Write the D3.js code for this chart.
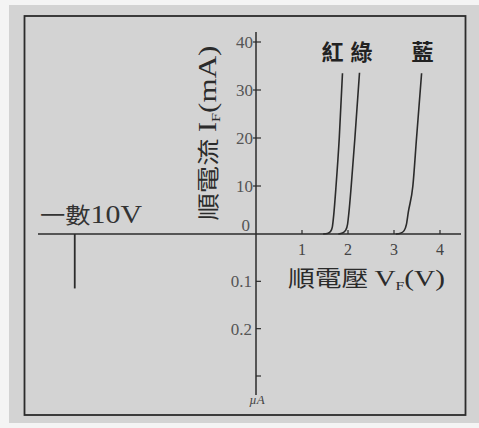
<!DOCTYPE html>
<html>
<head>
<meta charset="utf-8">
<script src="https://cdn.jsdelivr.net/npm/d3@7"></script>
<style>
  body { margin: 0; background: #f4f4f4; }
  svg { display: block; }
  text { fill: #333; }
</style>
</head>
<body>
<svg></svg>
<script>
const width = 479;
const height = 428;

// forward characteristic, V vs mA
const redV   = [1.46, 1.55, 1.62, 1.66, 1.69, 1.74, 1.81, 1.88];
const redI   = [0,    0.1,  0.5,  1.5,  4,    10,   20,   33.5];
const greenV = [1.79, 1.88, 1.95, 1.99, 2.02, 2.07, 2.15, 2.25];
const greenI = [0,    0.2,  0.8,  2,    4.5,  10,   20,   33.6];
const blueV  = [3.04, 3.14, 3.22, 3.27, 3.31, 3.41, 3.49, 3.60];
const blueI  = [0,    0.15, 0.7,  2,    4.5,  10,   20,   33.5];
const colorNames = ["紅", "綠", "藍"];

// reverse side
const reverseV = -10;
const reverseI = 0.115; // µA

const xTicks = [1, 2, 3, 4];
const yTicks = [0, 10, 20, 30, 40];
const revTicks = [0.1, 0.2, 0.3];
const revTickLabels = ["0.1", "0.2", ""];

const ink = "#2b2b2b";
const serif = "'Liberation Serif', 'DejaVu Serif', serif";
const cjk = "'Noto Sans CJK TC', 'Noto Sans CJK JP', sans-serif";

const x = d3.scaleLinear().domain([0, 4.5]).range([256, 463]);
const xNeg = d3.scaleLinear().domain([-12, 0]).range([38.5, 256]);
const y = d3.scaleLinear().domain([0, 40]).range([234, 42]);
const yRev = d3.scaleLinear().domain([0, 0.3]).range([234, 376]);

const svg = d3.select("svg").attr("width", width).attr("height", height);

// scanned page background
svg.append("rect").attr("x", 9).attr("y", 5).attr("width", 470).attr("height", 418)
  .attr("fill", "#d3d3d3");
svg.append("rect").attr("x", 24.5).attr("y", 16).attr("width", 441).attr("height", 399)
  .attr("fill", "none").attr("stroke", ink).attr("stroke-width", 1.8);

// axes lines
svg.append("line").attr("x1", 38).attr("x2", 461).attr("y1", y(0)).attr("y2", y(0))
  .attr("stroke", ink).attr("stroke-width", 1.5);
svg.append("line").attr("x1", x(0)).attr("x2", x(0)).attr("y1", 32).attr("y2", 395)
  .attr("stroke", ink).attr("stroke-width", 1.5);

// y ticks (mA)
const yg = svg.append("g");
yg.selectAll("line").data(yTicks.filter(d => d > 0)).enter().append("line")
  .attr("x1", x(0) - 3).attr("x2", x(0) + 5)
  .attr("y1", d => y(d)).attr("y2", d => y(d))
  .attr("stroke", ink).attr("stroke-width", 1.2);
yg.selectAll("text").data(yTicks).enter().append("text")
  .attr("x", d => d === 0 ? 250 : 253)
  .attr("y", d => d === 0 ? y(d) - 9 : y(d))
  .attr("dy", "0.35em")
  .attr("text-anchor", "end")
  .style("font", "17px " + serif).style("fill", "#555")
  .text(d => d);

// x ticks (V)
const xg = svg.append("g");
xg.selectAll("line").data(xTicks).enter().append("line")
  .attr("x1", d => x(d)).attr("x2", d => x(d))
  .attr("y1", y(0) - 4).attr("y2", y(0))
  .attr("stroke", ink).attr("stroke-width", 1.2);
xg.selectAll("text").data(xTicks).enter().append("text")
  .attr("x", d => x(d)).attr("y", y(0) + 15)
  .attr("dy", "0.35em").attr("text-anchor", "middle")
  .style("font", "16px " + serif).style("fill", "#444")
  .text(d => d);

// reverse ticks (µA)
const rg = svg.append("g");
rg.selectAll("line").data(revTicks).enter().append("line")
  .attr("x1", x(0)).attr("x2", x(0) + 5)
  .attr("y1", d => yRev(d)).attr("y2", d => yRev(d))
  .attr("stroke", ink).attr("stroke-width", 1.2);
rg.selectAll("text").data(revTicks).enter().append("text")
  .attr("x", 252).attr("y", d => yRev(d))
  .attr("dy", "0.35em").attr("text-anchor", "end")
  .style("font", "17px " + serif).style("fill", "#555")
  .text((d, i) => revTickLabels[i]);
svg.append("text").attr("x", x(0) + 1).attr("y", 404).attr("text-anchor", "middle")
  .style("font", "italic 13px " + serif).style("fill", "#444").text("µA");

// curves
const line = d3.line().x(d => x(d[0])).y(d => y(d[1])).curve(d3.curveMonotoneX);
const series = [
  d3.zip(redV, redI),
  d3.zip(greenV, greenI),
  d3.zip(blueV, blueI)
];
svg.append("g").selectAll("path").data(series).enter().append("path")
  .attr("d", line).attr("fill", "none")
  .attr("stroke", ink).attr("stroke-width", 1.6);

// colour names above curve tops
const tops = series.map(s => s[s.length - 1]);
svg.append("g").selectAll("text").data(colorNames).enter().append("text")
  .attr("x", (d, i) => x(tops[i][0]) + (i === 0 ? -10 : i === 1 ? 2 : 1))
  .attr("y", 52).attr("dy", "0.36em").attr("text-anchor", "middle")
  .style("font", "bold 22px " + cjk).style("fill", "#222")
  .text(d => d);

// reverse current mark
svg.append("line")
  .attr("x1", xNeg(reverseV)).attr("x2", xNeg(reverseV))
  .attr("y1", yRev(0)).attr("y2", yRev(reverseI))
  .attr("stroke", ink).attr("stroke-width", 1.8);
const rev = svg.append("text").attr("x", 40).attr("y", 215).attr("dy", "0.36em")
  .attr("textLength", 102).attr("lengthAdjust", "spacingAndGlyphs")
  .style("font", "22px " + cjk).style("fill", "#333");
rev.append("tspan").text("一數");
rev.append("tspan").style("font-family", serif).style("font-size", "26px").text("10V");

// axis titles
const yt = svg.append("text")
  .attr("transform", "translate(208,133) rotate(-90)")
  .attr("text-anchor", "middle").attr("dy", "0.36em")
  .attr("textLength", 175).attr("lengthAdjust", "spacingAndGlyphs")
  .style("font", "22px " + cjk).style("fill", "#2b2b2b");
yt.append("tspan").text("順電流 ");
yt.append("tspan").style("font-family", serif).style("font-size", "25px").text("I");
yt.append("tspan").style("font-family", serif).style("font-size", "13px").attr("dy", "4").text("F");
yt.append("tspan").style("font-family", serif).style("font-size", "25px").attr("dy", "-4").text("(mA)");

const xt = svg.append("text")
  .attr("x", 288).attr("y", 278).attr("dy", "0.36em")
  .attr("textLength", 157).attr("lengthAdjust", "spacingAndGlyphs")
  .style("font", "22px " + cjk).style("fill", "#2b2b2b");
xt.append("tspan").text("順電壓 ");
xt.append("tspan").style("font-family", serif).style("font-size", "24px").text("V");
xt.append("tspan").style("font-family", serif).style("font-size", "13px").attr("dy", "4").text("F");
xt.append("tspan").style("font-family", serif).style("font-size", "24px").attr("dy", "-4").text("(V)");
</script>
</body>
</html>
